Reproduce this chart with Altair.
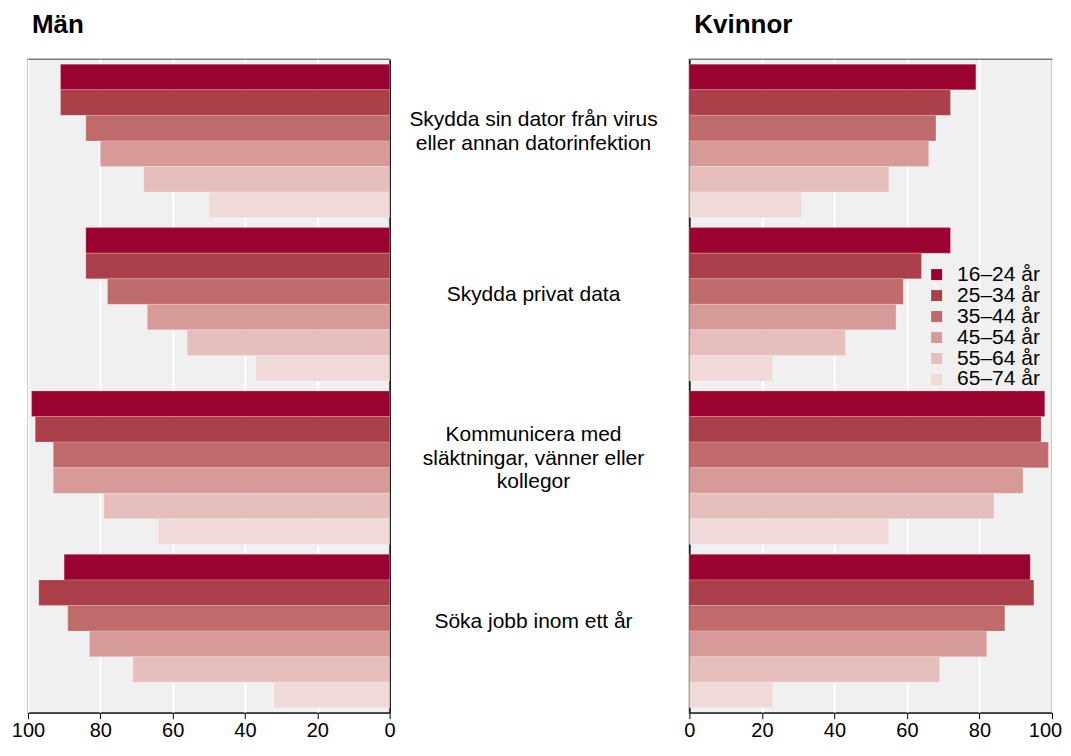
import altair as alt
import pandas as pd

categories = [
    "Skydda sin dator från virus\neller annan datorinfektion",
    "Skydda privat data",
    "Kommunicera med\nsläktningar, vänner eller\nkollegor",
    "Söka jobb inom ett år",
]
ages = ["16–24 år", "25–34 år", "35–44 år", "45–54 år", "55–64 år", "65–74 år"]
colors = ["#9A032F", "#AB3F4A", "#C06B6B", "#D69B98", "#E6BFBC", "#EFDAD7"]

men_virus = [91, 91, 84, 80, 68, 50]
men_privat = [84, 84, 78, 67, 56, 37]
men_kommunicera = [99, 98, 93, 93, 79, 64]
men_jobb = [90, 97, 89, 83, 71, 32]

women_virus = [79, 72, 68, 66, 55, 31]
women_privat = [72, 64, 59, 57, 43, 23]
women_kommunicera = [98, 97, 99, 92, 84, 55]
women_jobb = [94, 95, 87, 82, 69, 23]

tick_values = [0, 20, 40, 60, 80, 100]


def frame(series):
    rows = []
    for cat, vals in zip(categories, series):
        for age, v in zip(ages, vals):
            rows.append({"cat": cat, "age": age, "value": v})
    return pd.DataFrame(rows)


df_men = frame([men_virus, men_privat, men_kommunicera, men_jobb])
df_women = frame([women_virus, women_privat, women_kommunicera, women_jobb])
df_cat = pd.DataFrame({"cat": categories})

FONT = "Liberation Sans"
H = 654
LH = 23.5

yscale = alt.Scale(domain=categories, paddingInner=0.061, paddingOuter=0.03)
yoff = alt.YOffset("age:N", sort=ages, scale=alt.Scale(domain=ages, paddingInner=0, paddingOuter=0))

panel_view = alt.ViewBackground(fill="#F0F0F0", stroke="#7A7A7A", strokeWidth=1.5)
blank_view = alt.ViewBackground(fill="transparent", stroke="transparent")


def xaxis(last_shift=0):
    return alt.Axis(values=tick_values, title=None, grid=True, gridColor="white", gridWidth=2,
                    domainColor="black", domainWidth=1, tickColor="black", tickSize=6,
                    labelFontSize=20, labelFont=FONT, labelColor="black", labelPadding=2,
                    labelFlush=False,
                    labelOffset={"condition": {"test": "datum.value == 100", "value": last_shift},
                                 "value": 0})


def title(txt, dx):
    return alt.TitleParams(txt, anchor="start", frame="group", fontSize=26, fontWeight="bold",
                           font=FONT, color="black", dx=dx, offset=21)


left = alt.Chart(df_men).mark_bar(stroke="white", strokeWidth=0.5, strokeOpacity=0.4).encode(
    y=alt.Y("cat:N", sort=categories, scale=yscale,
            axis=alt.Axis(orient="right", labels=False, ticks=False, title=None, grid=False,
                          domainColor="black", domainWidth=1.5)),
    yOffset=yoff,
    x=alt.X("value:Q", scale=alt.Scale(domain=[0, 100], reverse=True, nice=False), axis=xaxis(0)),
    color=alt.Color("age:N", sort=ages, scale=alt.Scale(domain=ages, range=colors), legend=None),
).properties(width=362, height=H, view=panel_view, title=title("Män", 4))

middle = alt.Chart(df_cat).mark_text(
    font=FONT, fontSize=21, lineBreak="\n", lineHeight=LH, color="black",
    dy=alt.expr(f"-9 - (length(split(datum.cat, '\\n')) - 1) * {LH / 2}"),
    align="center", baseline="middle",
).encode(
    y=alt.Y("cat:N", sort=categories, scale=yscale, axis=None),
    x=alt.value(144),
    text="cat:N",
).properties(width=300, height=H, view=blank_view)

right = alt.Chart(df_women).mark_bar(stroke="white", strokeWidth=0.5, strokeOpacity=0.4).encode(
    y=alt.Y("cat:N", sort=categories, scale=yscale,
            axis=alt.Axis(orient="left", labels=False, ticks=False, title=None, grid=False,
                          domainColor="black", domainWidth=1.5)),
    yOffset=yoff,
    x=alt.X("value:Q", scale=alt.Scale(domain=[0, 100], nice=False), axis=xaxis(-7)),
    color=alt.Color("age:N", sort=ages, scale=alt.Scale(domain=ages, range=colors),
                    legend=alt.Legend(title=None, orient="none", legendX=237, legendY=205,
                                      padding=0, symbolType="square", symbolSize=121,
                                      symbolStrokeWidth=0, labelFontSize=21, labelFont=FONT,
                                      labelColor="black", rowPadding=-1, labelOffset=10)),
).properties(width=363, height=H, view=panel_view, title=title("Kvinnor", 5))

chart = alt.hconcat(left, middle, right, spacing=0, bounds="flush").resolve_scale(
    color="independent", y="shared"
).resolve_legend(color="independent").properties(
    padding={"left": 2, "top": 3, "right": 0, "bottom": 0}
)

chart.save("out.html", embed_options={"renderer": "svg", "actions": False})
